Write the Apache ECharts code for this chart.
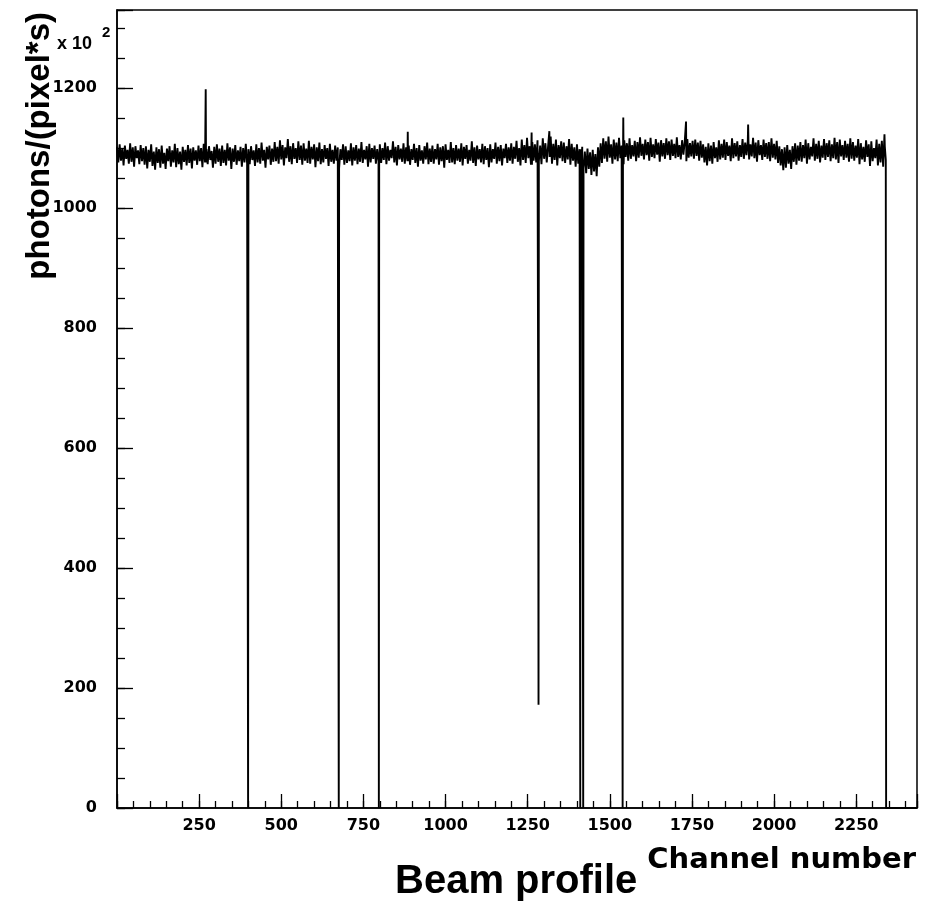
<!DOCTYPE html>
<html>
<head>
<meta charset="utf-8">
<script src="https://cdn.jsdelivr.net/npm/echarts@6/dist/echarts.min.js"></script>
<style>html,body{margin:0;padding:0;background:#fff}#c{width:934px;height:906px}</style>
</head>
<body>
<div id="c"></div>
<script>
// ---- data (units: x 10^2 photons/(pixel*s)) ----
const noiseStart = 0;      // first channel of the sampled profile
const noiseStep = 4;       // channels between samples
const profileValues = [
1102,1076,1106,1079,1099,1071,1104,1082,1097,1074,1108,1077,1101,1069,1103,1083,1096,1073,1105,1078,
1100,1072,1103,1066,1097,1077,1106,1070,1094,1064,1101,1075,1098,1067,1104,1074,1092,1065,1099,1078,
1103,1069,1096,1076,1107,1068,1100,1073,1094,1064,1102,1077,1097,1071,1105,1075,1099,1066,1101,1079,
1096,1072,1104,1078,1100,1068,1107,1076,1098,1073,1103,1080,1095,1067,1102,1074,1106,1077,1099,1070,
1104,1075,1097,1071,1108,1079,1101,1065,1099,1077,1105,1072,1096,1078,1102,1069,1100,1076,1107,1074,
1098,1073,1103,1080,1096,1070,1106,1076,1100,1074,1109,1079,1097,1067,1102,1081,1104,1072,1099,1077,
1110,1078,1102,1074,1113,1081,1105,1071,1101,1083,1115,1077,1103,1073,1108,1082,1100,1075,1111,1080,
1104,1072,1108,1079,1099,1075,1112,1074,1102,1081,1106,1068,1101,1078,1109,1073,1098,1076,1105,1082,
1100,1070,1107,1077,1097,1074,1104,1079,1101,1066,1098,1080,1106,1072,1103,1075,1096,1078,1108,1071,
1101,1079,1105,1073,1099,1077,1110,1075,1097,1081,1103,1069,1107,1076,1100,1082,1104,1074,1098,1078,
1106,1075,1100,1080,1109,1073,1103,1079,1097,1083,1111,1076,1102,1071,1105,1081,1099,1077,1108,1074,
1101,1078,1104,1072,1098,1080,1107,1075,1100,1069,1105,1079,1096,1074,1103,1081,1109,1073,1099,1077,
1104,1074,1098,1081,1107,1072,1101,1078,1103,1067,1106,1080,1097,1075,1110,1076,1100,1073,1105,1079,
1099,1077,1108,1071,1102,1082,1105,1074,1097,1079,1111,1075,1101,1070,1104,1081,1098,1076,1107,1073,
1103,1080,1100,1068,1106,1076,1098,1082,1109,1074,1102,1078,1105,1071,1099,1083,1107,1075,1101,1079,
1108,1074,1102,1082,1112,1077,1100,1071,1114,1080,1105,1075,1117,1083,1103,1072,1110,1079,1106,1076,
1113,1078,1104,1073,1116,1082,1108,1076,1102,1085,1119,1074,1107,1080,1114,1071,1105,1083,1111,1078,
1109,1075,1103,1081,1115,1072,1107,1079,1101,1069,1106,1074,1098,1063,1102,1067,1094,1058,1099,1065,
1093,1055,1097,1061,1090,1053,1101,1069,1108,1075,1116,1082,1111,1077,1119,1084,1106,1074,1114,1081,
1109,1078,1117,1083,1104,1073,1113,1085,1108,1079,1116,1082,1105,1086,1112,1078,1110,1084,1118,1087,
1107,1081,1114,1088,1110,1079,1117,1085,1106,1083,1115,1089,1109,1077,1113,1086,1108,1082,1116,1088,
1111,1080,1114,1087,1107,1083,1118,1085,1105,1081,1113,1089,1110,1078,1115,1084,1108,1086,1112,1082,
1114,1087,1109,1079,1112,1084,1106,1076,1102,1071,1108,1078,1104,1074,1110,1083,1101,1077,1113,1081,
1107,1084,1114,1080,1110,1087,1104,1078,1116,1083,1108,1086,1111,1079,1105,1085,1115,1082,1109,1088,
1112,1081,1106,1086,1117,1083,1109,1077,1113,1088,1105,1080,1114,1085,1108,1082,1110,1078,1116,1084,
1107,1081,1112,1075,1103,1071,1098,1063,1101,1067,1105,1074,1097,1065,1103,1077,1108,1072,1104,1079,
1110,1077,1105,1083,1114,1074,1108,1081,1102,1086,1116,1079,1107,1082,1112,1076,1104,1084,1115,1080,
1108,1085,1113,1078,1106,1083,1117,1081,1110,1075,1114,1086,1105,1080,1112,1084,1107,1077,1116,1082,
1110,1079,1104,1084,1115,1073,1108,1081,1102,1077,1113,1085,1106,1070,1111,1078,1100,1083,1114,1071,
1107,1076,1112,1069,1103,1080
];
// single-channel features: [channel, value]
const singleChannels = [
  [270, 1198], [399, 0], [675, 0], [797, 0], [885, 1127], [1262, 1126],
  [1282, 664], [1283, 172], [1316, 1128], [1410, 0], [1419, 0],
  [1539, 0], [1541, 1151], [1732, 1144], [1921, 1139], [2336, 1123]
];
const emptyFrom = 2341;    // counts are zero from this channel on
const xMax = 2435;
const yMax = 1330;
const xMajor = 250, xMinor = 50, yMajor = 200, yMinor = 50;

// ---- build series points ----
const pts = new Map();
profileValues.forEach((v, i) => pts.set(noiseStart + i * noiseStep, v));
const marked = new Set(singleChannels.map(m => m[0]));
function baseAt(c) {
  const i = Math.max(0, Math.min(profileValues.length - 1, Math.floor((c - noiseStart) / noiseStep)));
  return profileValues[i];
}
singleChannels.forEach(([c]) => {
  if (!marked.has(c + 1) && !pts.has(c + 1)) pts.set(c + 1, baseAt(c));
});
singleChannels.forEach(([c, v]) => pts.set(c, v));
pts.set(emptyFrom, 0);
pts.set(xMax, 0);
const seriesData = Array.from(pts.entries()).sort((a, b) => a[0] - b[0]);

const tickFont = { fontFamily: 'DejaVu Sans', fontWeight: 'bold', fontSize: 16, color: '#000' };
const sans = '"Liberation Sans", Arial, sans-serif';

const chart = echarts.init(document.getElementById('c'), null, { renderer: 'canvas' });
chart.setOption({
  animation: false,
  backgroundColor: '#fff',
  grid: { left: 117, top: 10, width: 800, height: 798, show: true, borderColor: '#000', borderWidth: 1.5, backgroundColor: 'transparent' },
  xAxis: [
    { type: 'value', min: 0, max: xMax, interval: xMajor, position: 'bottom',
      axisLine: { show: true, onZero: false, lineStyle: { color: '#000', width: 1.5 } },
      axisTick: { inside: true, length: 14, lineStyle: { color: '#000', width: 1.3 } },
      axisLabel: Object.assign({ margin: 10, formatter: v => (v > 0 && v % xMajor === 0) ? String(v) : '' }, tickFont),
      splitLine: { show: false } },
    { type: 'value', min: 0, max: xMax, interval: xMinor, position: 'bottom',
      axisLine: { show: false, onZero: false },
      axisTick: { inside: true, length: 7, lineStyle: { color: '#000', width: 1.3 } },
      axisLabel: { show: false }, splitLine: { show: false } }
  ],
  yAxis: [
    { type: 'value', min: 0, max: yMax, interval: yMajor, position: 'left',
      axisLine: { show: true, onZero: false, lineStyle: { color: '#000', width: 1.5 } },
      axisTick: { inside: true, length: 16, lineStyle: { color: '#000', width: 1.3 } },
      axisLabel: Object.assign({ margin: 20, formatter: v => (v % yMajor === 0) ? String(v) : '' }, tickFont),
      splitLine: { show: false } },
    { type: 'value', min: 0, max: yMax, interval: yMinor, position: 'left',
      axisLine: { show: false, onZero: false },
      axisTick: { inside: true, length: 8, lineStyle: { color: '#000', width: 1.3 } },
      axisLabel: { show: false }, splitLine: { show: false } }
  ],
  series: [{
    type: 'line', xAxisIndex: 0, yAxisIndex: 0, step: 'end', symbol: 'none',
    sampling: null, data: seriesData,
    lineStyle: { color: '#000', width: 1.9 }
  }],
  graphic: [
    { type: 'text', x: 40, y: 12, rotation: Math.PI / 2,
      style: { text: 'photons/(pixel*s)', align: 'right', verticalAlign: 'middle', fill: '#000',
               fontFamily: sans, fontWeight: 'bold', fontSize: 33 } },
    { type: 'text', x: 57, y: 35,
      style: { text: 'x 10', align: 'left', verticalAlign: 'top', fill: '#000',
               fontFamily: sans, fontWeight: 'bold', fontSize: 18 } },
    { type: 'text', x: 102, y: 25,
      style: { text: '2', align: 'left', verticalAlign: 'top', fill: '#000',
               fontFamily: sans, fontWeight: 'bold', fontSize: 15 } },
    { type: 'text', x: 916, y: 846,
      style: { text: 'Channel number', align: 'right', verticalAlign: 'top', fill: '#000',
               fontFamily: '"DejaVu Sans", sans-serif', fontWeight: 'bold', fontSize: 29 } },
    { type: 'text', x: 395, y: 862,
      style: { text: 'Beam profile', align: 'left', verticalAlign: 'top', fill: '#000',
               fontFamily: sans, fontWeight: 'bold', fontSize: 40 } }
  ]
});
</script>
</body>
</html>
